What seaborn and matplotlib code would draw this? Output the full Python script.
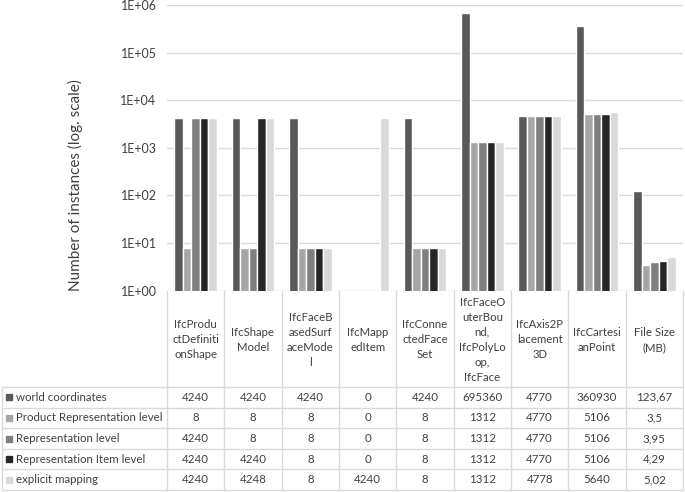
import numpy as np
import pandas as pd
import matplotlib
matplotlib.use("Agg")
import matplotlib.pyplot as plt
import seaborn as sns
from matplotlib.patches import Rectangle

# podaci (citani s grafa / iz tablice)
categories = ["IfcProdu\nctDefiniti\nonShape", "IfcShape\nModel",
              "IfcFaceB\nasedSurf\naceMode\nl", "IfcMapp\nedItem",
              "IfcConne\nctedFace\nSet",
              "IfcFaceO\nuterBou\nnd,\nIfcPolyLo\nop,\nIfcFace",
              "IfcAxis2P\nlacement\n3D", "IfcCartesi\nanPoint", "File Size\n(MB)"]
series = ["world coordinates", "Product Representation level",
          "Representation level", "Representation Item level", "explicit mapping"]
world = [4240, 4240, 4240, 0, 4240, 695360, 4770, 360930, 123.67]
product_rep = [8, 8, 8, 0, 8, 1312, 4770, 5106, 3.5]
rep_level = [4240, 8, 8, 0, 8, 1312, 4770, 5106, 3.95]
rep_item = [4240, 4240, 8, 0, 8, 1312, 4770, 5106, 4.29]
explicit = [4240, 4248, 8, 4240, 8, 1312, 4778, 5640, 5.02]
colors = ["#595959", "#a6a6a6", "#7f7f7f", "#262626", "#d9d9d9"]

values = [world, product_rep, rep_level, rep_item, explicit]
rows = []
for s, vals in zip(series, values):
    for c, v in zip(categories, vals):
        rows.append({"cat": c, "series": s, "value": v})
df = pd.DataFrame(rows)
# nule se ne mogu prikazati na log skali
plot_df = df[df["value"] > 0]

sns.set_style("white")
plt.rcParams["font.family"] = ["Lato", "DejaVu Sans"]
txt_col = "#404040"
line_col = "#d9d9d9"

W, H = 685, 492
fig = plt.figure(figsize=(W / 100, H / 100), dpi=100)

x0, x1 = 167, 683
y_top, y_bot = 5, 290.7
ax = fig.add_axes([x0 / W, 1 - y_bot / H, (x1 - x0) / W, (y_bot - y_top) / H])
sns.barplot(data=plot_df, x="cat", y="value", hue="series", order=categories,
            hue_order=series, palette=colors, width=0.745, gap=0, saturation=1,
            errorbar=None, legend=False, ax=ax)
ax.set_yscale("log")
ax.set_xlim(-0.5, len(categories) - 0.5)
ax.set_ylim(1, 1e6)
ticks = [10 ** k for k in range(7)]
ax.set_yticks(ticks)
ax.set_yticklabels([f"1E+{k:02d}" for k in range(7)])
ax.minorticks_off()
ax.yaxis.grid(True, color=line_col, lw=1)
ax.set_axisbelow(True)
ax.tick_params(axis="y", length=0, pad=7.5, labelsize=9, labelcolor=txt_col)
ax.set_xticks([])
ax.set_xlabel("")
ax.set_ylabel("")
for sp in ax.spines.values():
    sp.set_visible(False)
ax.patch.set_alpha(0)

# tablica ispod grafa
tab = fig.add_axes([0, 0, 1, 1], zorder=-1)
tab.set_xlim(0, W)
tab.set_ylim(H, 0)
tab.axis("off")

n = len(categories)
cw = (x1 - x0) / n
row_top, rh = 387, 20.6
for i in range(n + 1):
    tab.plot([x0 + i * cw] * 2, [y_bot, row_top + 5 * rh], color=line_col, lw=1)
for j in range(6):
    tab.plot([2, x1], [row_top + j * rh] * 2, color=line_col, lw=1)
tab.plot([2, 2], [row_top, row_top + 5 * rh], color=line_col, lw=1)

for i, c in enumerate(categories):
    tab.text(x0 + (i + 0.5) * cw, (y_bot + row_top) / 2 + 1, c, ha="center",
             va="center", fontsize=8.2, color=txt_col, linespacing=1.45)

def fmt(v):
    return f"{v:g}".replace(".", ",")

for j, (s, vals, col) in enumerate(zip(series, values, colors)):
    yc = row_top + (j + 0.5) * rh
    tab.add_patch(Rectangle((6, yc - 3), 6, 6, color=col))
    tab.text(16, yc, s, ha="left", va="center", fontsize=8.3, color=txt_col)
    for i, v in enumerate(vals):
        tab.text(x0 + (i + 0.5) * cw, yc, fmt(v), ha="center", va="center",
                 fontsize=8.3, color=txt_col)

tab.text(75, 185, "Number of instances (log. scale)", rotation=90, ha="center",
         va="center", fontsize=11, color=txt_col)

fig.savefig("out.png", dpi=100)
